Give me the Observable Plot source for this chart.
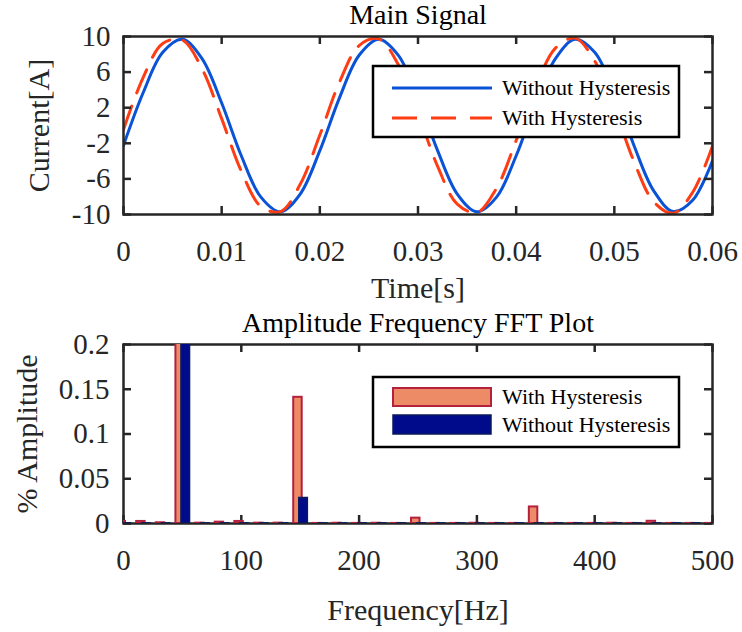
<!DOCTYPE html>
<html><head><meta charset="utf-8">
<script src="https://cdn.jsdelivr.net/npm/d3@7"></script>
<script src="https://cdn.jsdelivr.net/npm/@observablehq/plot@0.6"></script>
<style>
body{margin:0;background:#fff;}
#c{width:742px;}
svg{display:block;}
</style>
</head><body><div id="c"></div>
<script>
// ---------- data ----------
const timeS = [0,0.002,0.004,0.006,0.008,0.010,0.012,0.014,0.016,0.018,0.020,0.022,0.024,0.026,0.028,0.030,0.032,0.034,0.036,0.038,0.040,0.042,0.044,0.046,0.048,0.050,0.052,0.054,0.056,0.058,0.060];
const withoutHyst = [-2.24,3.68,8.22,9.68,7.52,2.53,-3.40,-8.05,-9.70,-7.70,-2.82,3.11,7.89,9.70,7.88,3.11,-2.82,-7.70,-9.70,-8.05,-3.40,2.54,7.52,9.68,8.22,3.68,-2.24,-7.32,-9.66,-8.37,-3.95];
const withHyst = [-0.46,5.39,9.22,9.60,6.38,0.77,-5.13,-9.10,-9.67,-6.61,-1.07,4.86,8.98,9.73,6.83,1.38,-4.59,-8.84,-9.78,-7.05,-1.68,4.32,8.70,9.82,7.26,1.99,-4.04,-8.55,-9.86,-7.47,-2.29];
const timeTicks = [0,0.01,0.02,0.03,0.04,0.05,0.06];
const currentTicks = [10,6,2,-2,-6,-10];

const freqHz = [0,16.67,33.33,50,66.67,83.33,100,116.67,133.33,150,166.67,183.33,200,216.67,233.33,250,266.67,283.33,300,316.67,333.33,350,366.67,383.33,400,416.67,433.33,450,466.67,483.33,500];
const ampWith = [0.0023,0.0023,0.0008,0.98,0.0004,0.0015,0.0023,0.0004,0.0004,0.141,0.0001,0.0003,0.0001,0.0003,0.0001,0.006,0.0001,0.0001,0.0003,0.0001,0.0001,0.0185,0.0001,0.0001,0.0001,0.0003,0.0001,0.0025,0.0001,0.0001,0.0001];
const ampWithout = [0.0002,0.0001,0.0001,0.98,0.0001,0.0001,0.0001,0.0001,0.0001,0.0285,0.0001,0.0001,0.0001,0.0001,0.0001,0.0001,0.0001,0.0001,0.0001,0.0001,0.0001,0.0001,0.0001,0.0001,0.0001,0.0001,0.0001,0.0001,0.0001,0.0001,0.0001];
const freqTicks = [0,100,200,300,400,500];
const ampTicks = [0,0.05,0.1,0.15,0.2];

const seriesNames = ["Without Hysteresis","With Hysteresis"];
const barNames = ["With Hysteresis","Without Hysteresis"];

// ---------- style ----------
const FONT = "'Liberation Serif','Times New Roman',serif";
const AX = "#262626";
const BLUE = "#0a52d6", RED = "#ff3d14";
const SALMON = "#ec8b65", CRIMSON = "#b3213f", NAVY = "#000b8c", NAVYS = "#0a1a5c";
const TL = 8, SW = 2.5;

const sig = timeS.map((t,i) => ({t, a: withoutHyst[i], b: withHyst[i]}));
const fft = freqHz.map((f,i) => ({f, w: ampWith[i], o: ampWithout[i]}));

// ---------- top chart ----------
const ML = 123, MR = 30, W = 742;
const FW = W - ML - MR;
const H1 = 300, MT1 = 36, MB1 = 86, FH1 = H1 - MT1 - MB1;

const chartTop = Plot.plot({
  width: W, height: H1, marginLeft: ML, marginRight: MR, marginTop: MT1, marginBottom: MB1,
  style: {fontFamily: FONT, fontSize: "29px", color: AX, background: "#fff", overflow: "visible"},
  x: {domain: [0, 0.06], label: null},
  y: {domain: [-10, 10], label: null},
  marks: [
    Plot.line(sig, {x: "t", y: "a", stroke: BLUE, strokeWidth: 3, curve: "catmull-rom", clip: true}),
    Plot.line(sig, {x: "t", y: "b", stroke: RED, strokeWidth: 3, strokeDasharray: "25,14", curve: "catmull-rom", clip: true}),
    Plot.frame({stroke: AX, strokeWidth: SW}),
    Plot.tickX(timeTicks, {x: d => d, insetTop: FH1 - TL, stroke: AX, strokeWidth: SW}),
    Plot.tickX(timeTicks, {x: d => d, insetBottom: FH1 - TL, stroke: AX, strokeWidth: SW}),
    Plot.tickY(currentTicks, {y: d => d, insetRight: FW - TL, stroke: AX, strokeWidth: SW}),
    Plot.tickY(currentTicks, {y: d => d, insetLeft: FW - TL, stroke: AX, strokeWidth: SW}),
    Plot.axisX({ticks: timeTicks, tickSize: 0, tickPadding: 26, tickFormat: d => String(d), label: null}),
    Plot.axisY({ticks: currentTicks, tickSize: 0, tickPadding: 13, tickFormat: d => String(d), label: null}),
    Plot.text(["Main Signal"], {text: d => d, frameAnchor: "top", lineAnchor: "middle", dy: -21, fontSize: 28, fill: "#000"}),
    Plot.text(["Time[s]"], {text: d => d, frameAnchor: "bottom", lineAnchor: "middle", dy: 74, fontSize: 30, fill: AX}),
    Plot.text(["Current[A]"], {text: d => d, frameAnchor: "left", textAnchor: "middle", lineAnchor: "middle", dx: -84, rotate: -90, fontSize: 30, fill: AX})
  ]
});

// ---------- bottom chart ----------
const H2 = 332, MT2 = 44, MB2 = 109, FH2 = H2 - MT2 - MB2;
const chartBottom = Plot.plot({
  width: W, height: H2, marginLeft: ML, marginRight: MR, marginTop: MT2, marginBottom: MB2,
  style: {fontFamily: FONT, fontSize: "29px", color: AX, background: "#fff", overflow: "visible"},
  x: {domain: [0, 500], label: null},
  y: {domain: [0, 0.2], label: null},
  marks: [
    Plot.frame({stroke: AX, strokeWidth: SW}),
    Plot.tickX(freqTicks, {x: d => d, insetTop: FH2 - TL, stroke: AX, strokeWidth: SW}),
    Plot.tickX(freqTicks, {x: d => d, insetBottom: FH2 - TL, stroke: AX, strokeWidth: SW}),
    Plot.tickY(ampTicks, {y: d => d, insetRight: FW - TL, stroke: AX, strokeWidth: SW}),
    Plot.tickY(ampTicks, {y: d => d, insetLeft: FW - TL, stroke: AX, strokeWidth: SW}),
    Plot.rectY(fft, {x1: d => d.f - 5.5, x2: d => d.f + 1.7, y1: 0, y2: "w", fill: SALMON, stroke: CRIMSON, strokeWidth: 2, clip: true}),
    Plot.rectY(fft, {x1: d => d.f - 0.8, x2: d => d.f + 6.5, y1: 0, y2: "o", fill: NAVY, stroke: NAVYS, strokeWidth: 1.5, clip: true}),
    Plot.axisX({ticks: freqTicks, tickSize: 0, tickPadding: 26, tickFormat: d => String(d), label: null}),
    Plot.axisY({ticks: ampTicks, tickSize: 0, tickPadding: 14, tickFormat: d => String(d), label: null}),
    Plot.text(["Amplitude Frequency FFT Plot"], {text: d => d, frameAnchor: "top", lineAnchor: "middle", dy: -21, fontSize: 28, fill: "#000"}),
    Plot.text(["Frequency[Hz]"], {text: d => d, frameAnchor: "bottom", lineAnchor: "middle", dy: 87, fontSize: 30, fill: AX}),
    Plot.text(["% Amplitude"], {text: d => d, frameAnchor: "left", textAnchor: "middle", lineAnchor: "middle", dx: -96, rotate: -90, fontSize: 30, fill: AX})
  ]
});

const c = document.getElementById("c");
c.appendChild(chartTop);
c.appendChild(chartBottom);

// ---------- legends ----------
function legendBox(svg, y0, h) {
  const g = d3.select(svg).append("g");
  g.append("rect").attr("x", 373).attr("y", y0).attr("width", 306).attr("height", h)
    .attr("fill", "#fff").attr("stroke", "#000").attr("stroke-width", 2.5);
  return g;
}
function legendText(g, y, s) {
  g.append("text").attr("x", 502).attr("y", y).attr("dy", "0.33em")
    .attr("text-anchor", "start")
    .attr("font-family", FONT).attr("font-size", 22).attr("fill", "#000").text(s);
}
{
  const g = legendBox(chartTop, 66, 71);
  g.append("line").attr("x1", 392).attr("x2", 492).attr("y1", 88).attr("y2", 88)
    .attr("stroke", BLUE).attr("stroke-width", 3);
  legendText(g, 88, seriesNames[0]);
  g.append("line").attr("x1", 392).attr("x2", 492).attr("y1", 118).attr("y2", 118)
    .attr("stroke", RED).attr("stroke-width", 3).attr("stroke-dasharray", "25,14");
  legendText(g, 118, seriesNames[1]);
}
{
  const g = legendBox(chartBottom, 77, 70);
  g.append("rect").attr("x", 393).attr("y", 88).attr("width", 98).attr("height", 18)
    .attr("fill", SALMON).attr("stroke", CRIMSON).attr("stroke-width", 2);
  legendText(g, 97, barNames[0]);
  g.append("rect").attr("x", 393).attr("y", 115).attr("width", 98).attr("height", 19)
    .attr("fill", NAVY).attr("stroke", NAVYS).attr("stroke-width", 1.5);
  legendText(g, 125, barNames[1]);
}
</script>
</body></html>
